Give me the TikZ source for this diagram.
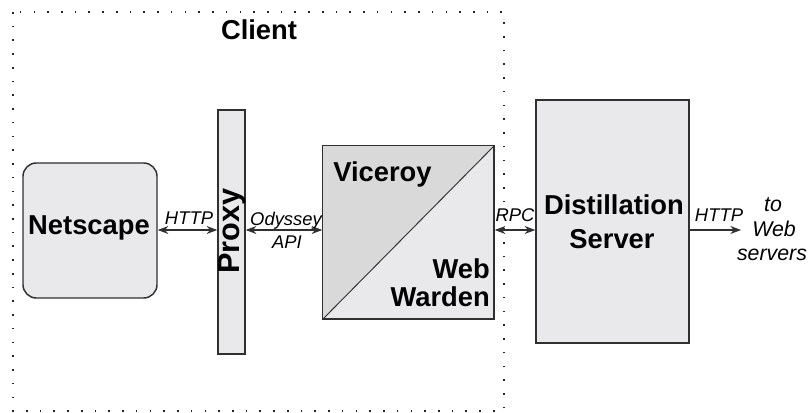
\documentclass[tikz,border=0pt]{standalone}
\usepackage{fontspec}
\setmainfont{Liberation Sans}
\usetikzlibrary{arrows.meta}
\definecolor{boxfill}{HTML}{E9E9EB}
\definecolor{darkfill}{HTML}{D9D9DA}
\definecolor{edge}{HTML}{303030}
\begin{document}
\begin{tikzpicture}[x=0.75pt,y=-0.75pt,
  box/.style={draw=edge,fill=boxfill,line width=1.1pt,inner sep=0pt},
  big/.style={font=\fontsize{20.5}{24}\selectfont\bfseries,inner sep=0pt},
  lbl/.style={font=\fontsize{13.8}{16}\selectfont\itshape,inner sep=0pt},
  conn/.style={line width=0.8pt,draw=edge},
  tip/.style={-{Stealth[length=8pt,width=6pt]}},
  both/.style={{Stealth[length=8pt,width=6pt]}-{Stealth[length=8pt,width=6pt]}},
  dotbox/.style={draw=black!85,line width=1.2pt,dash pattern=on 1.2pt off 9.1pt}]
\useasboundingbox (0,0) rectangle (810,413);
% client area
\draw[dotbox] (13,12) rectangle (504,411);
\node[big,anchor=base] (client) at (259,40) {Client};
% boxes
\node[box,rounded corners=10pt,minimum width=100.5pt,minimum height=101.25pt] (netscape) at (90,230.5) {};
\node[big,anchor=base] (netscapet) at (89,235) {Netscape};
\node[box,minimum width=20.25pt,minimum height=183pt] (proxy) at (231.5,232) {};
\node[font=\fontsize{23}{26}\selectfont\bfseries,inner sep=0pt,rotate=90] (proxyt) at (232,231) {Proxy};
\node[box,minimum width=128.25pt,minimum height=129.75pt] (sq) at (408.5,232.5) {};
\fill[darkfill] (sq.south west) -- (sq.north west) -- (sq.north east) -- cycle;
\draw[edge,line width=1.1pt] (sq.south west) rectangle (sq.north east);
\draw[edge,line width=0.7pt] (sq.south west) -- (sq.north east);
\node[big,anchor=base west] (viceroy) at (333,182) {Viceroy};
\node[big,anchor=base east] (web) at (490,278) {Web};
\node[big,anchor=base east] (warden) at (490,306) {Warden};
\node[box,minimum width=114.75pt,minimum height=182.25pt] (dist) at (612.5,221.5) {};
\node[big,anchor=base] (distt) at (614,215) {Distillation};
\node[big,anchor=base] (server) at (612,248) {Server};
% connectors
\coordinate (ay) at (0,230);
\draw[conn,both] (netscape.east |- ay) -- (proxy.west |- ay);
\draw[conn,both] (proxy.east |- ay) -- (sq.west |- ay);
\draw[conn,both] (sq.east |- ay) -- (dist.west |- ay);
\coordinate (webend) at (741,230);
\draw[conn,tip] (dist.east |- ay) -- (webend);
% labels
\node[lbl,anchor=base] (l1) at (189,225) {HTTP};
\node[lbl,anchor=base] (l2) at (286,226) {Odyssey};
\node[lbl,anchor=base] (l3) at (287,248) {API};
\node[lbl,anchor=base] (l4) at (515,222) {RPC};
\node[lbl,anchor=base] (l5) at (719,222) {HTTP};
\node[font=\fontsize{16}{18}\selectfont\itshape,inner sep=0pt,anchor=base] (to1) at (773,212) {to};
\node[font=\fontsize{16}{18}\selectfont\itshape,inner sep=0pt,anchor=base] (to2) at (774,237) {Web};
\node[font=\fontsize{16}{18}\selectfont\itshape,inner sep=0pt,anchor=base] (to3) at (772,261) {servers};
\end{tikzpicture}
\end{document}
